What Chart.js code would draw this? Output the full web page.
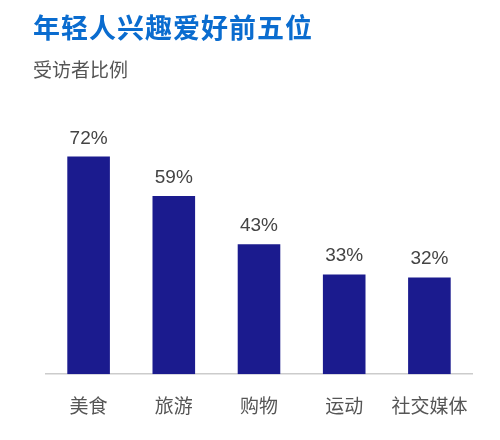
<!DOCTYPE html>
<html>
<head>
<meta charset="utf-8">
<script src="https://cdn.jsdelivr.net/npm/chart.js@4"></script>
<style>
  body { margin: 0; background: #fff; font-family: "Noto Sans CJK SC", "Liberation Sans", sans-serif; }
  #wrap { position: relative; width: 500px; height: 440px; }
  #title { position: absolute; left: 33px; top: 7px; font-size: 27px; font-weight: bold; color: #0a6ccf; letter-spacing: 1px; }
  #subtitle { position: absolute; left: 33px; top: 55px; font-size: 19px; color: #555; }
  #box { position: absolute; left: 0; top: 0; width: 500px; height: 440px; }
</style>
</head>
<body>
<div id="wrap">
  <div id="box"><canvas id="topChart"></canvas></div>
  <div id="title">年轻人兴趣爱好前五位</div>
  <div id="subtitle">受访者比例</div>
</div>
<script>
// Chart data
const categories = ['美食', '旅游', '购物', '运动', '社交媒体'];
const shares = [72, 59, 43, 33, 32];

// Draws the percentage above each bar
const valueLabels = {
  id: 'valueLabels',
  afterDatasetsDraw(chart) {
    const ctx = chart.ctx;
    const meta = chart.getDatasetMeta(0);
    ctx.save();
    ctx.font = '19px "Liberation Sans", Arial, sans-serif';
    ctx.fillStyle = '#444';
    ctx.textAlign = 'center';
    ctx.textBaseline = 'alphabetic';
    meta.data.forEach((bar, i) => {
      ctx.fillText(shares[i] + '%', bar.x, bar.y - 13);
    });
    ctx.restore();
  }
};

const ctx = document.getElementById('topChart').getContext('2d');
new Chart(ctx, {
  type: 'bar',
  data: {
    labels: categories,
    datasets: [{
      data: shares,
      backgroundColor: '#1b1b8e',
      borderWidth: 0,
      categoryPercentage: 1,
      barPercentage: 0.5
    }]
  },
  options: {
    responsive: true,
    maintainAspectRatio: false,
    animation: false,
    layout: { padding: { left: 46, right: 28, top: 72, bottom: 3 } },
    plugins: {
      legend: { display: false },
      tooltip: { enabled: false }
    },
    scales: {
      x: {
        grid: { display: false, drawTicks: false },
        border: { display: true, color: '#cccccc', width: 1.5 },
        ticks: {
          color: '#555',
          padding: 20,
          font: { size: 19, family: '"Noto Sans CJK SC", sans-serif' }
        }
      },
      y: {
        min: 0,
        max: 100,
        display: false
      }
    }
  },
  plugins: [valueLabels]
});
</script>
</body>
</html>
